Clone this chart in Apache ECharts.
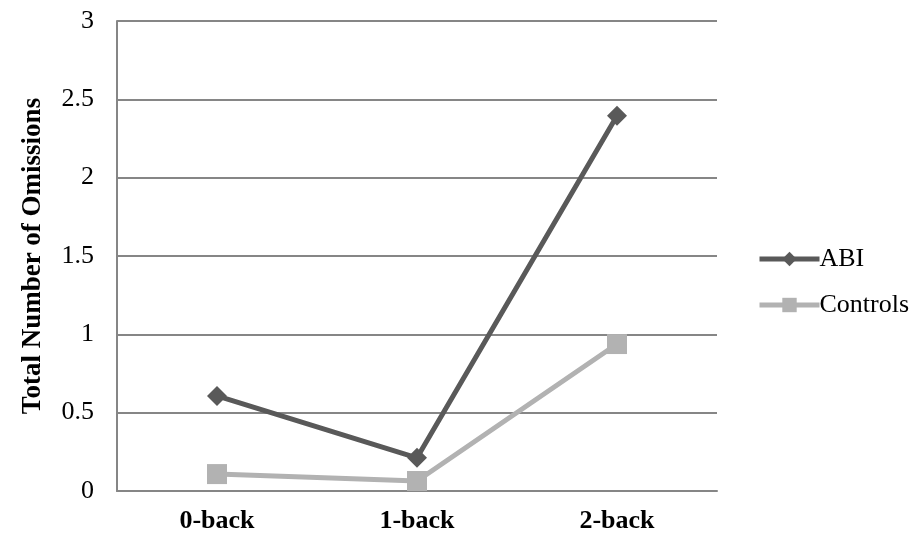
<!DOCTYPE html>
<html><head><meta charset="utf-8">
<script src="https://cdn.jsdelivr.net/npm/echarts@6/dist/echarts.min.js"></script>
<style>html,body{margin:0;padding:0;background:#fff}#c{width:914px;height:538px}</style>
</head><body><div id="c"></div>
<script>
const categories = ['0-back', '1-back', '2-back'];
const abi = [0.607, 0.212, 2.395];
const controls = [0.108, 0.064, 0.938];
const yTicks = { min: 0, max: 3, interval: 0.5 };

const chart = echarts.init(document.getElementById('c'));
const font = '"Liberation Serif", "Times New Roman", serif';
chart.setOption({
  animation: false,
  backgroundColor: '#fff',
  grid: { left: 117, right: 197, top: 21, bottom: 47 },
  legend: {
    orient: 'vertical', left: 752, top: 241, itemWidth: 60, itemHeight: 18, itemGap: 20,
    lineStyle: { width: 5 },
    textStyle: { fontFamily: font, fontSize: 26, color: '#000', padding: [0,0,0,-5] },
    data: ['ABI', 'Controls']
  },
  xAxis: {
    type: 'category', data: categories,
    axisLine: { lineStyle: { color: '#868686', width: 2 } },
    axisTick: { show: false },
    axisLabel: { fontFamily: font, fontSize: 26, fontWeight: 'bold', color: '#000', margin: 17 }
  },
  yAxis: {
    type: 'value', min: yTicks.min, max: yTicks.max, interval: yTicks.interval,
    name: 'Total Number of Omissions', nameLocation: 'middle', nameGap: 70,
    nameTextStyle: { fontFamily: font, fontSize: 27, fontWeight: 'bold', color: '#000' },
    axisLine: { show: true, lineStyle: { color: '#868686', width: 2 } },
    axisTick: { show: false },
    splitLine: { lineStyle: { color: '#868686', width: 2 } },
    axisLabel: { fontFamily: font, fontSize: 26, color: '#000', margin: 23 }
  },
  series: [
    { name: 'ABI', type: 'line', data: abi, symbol: 'diamond', symbolSize: 20,
      lineStyle: { color: '#595959', width: 5 }, itemStyle: { color: '#595959' } },
    { name: 'Controls', type: 'line', data: controls, symbol: 'rect', symbolSize: 20,
      lineStyle: { color: '#b2b2b2', width: 5 }, itemStyle: { color: '#b2b2b2' } }
  ]
});
</script></body></html>
